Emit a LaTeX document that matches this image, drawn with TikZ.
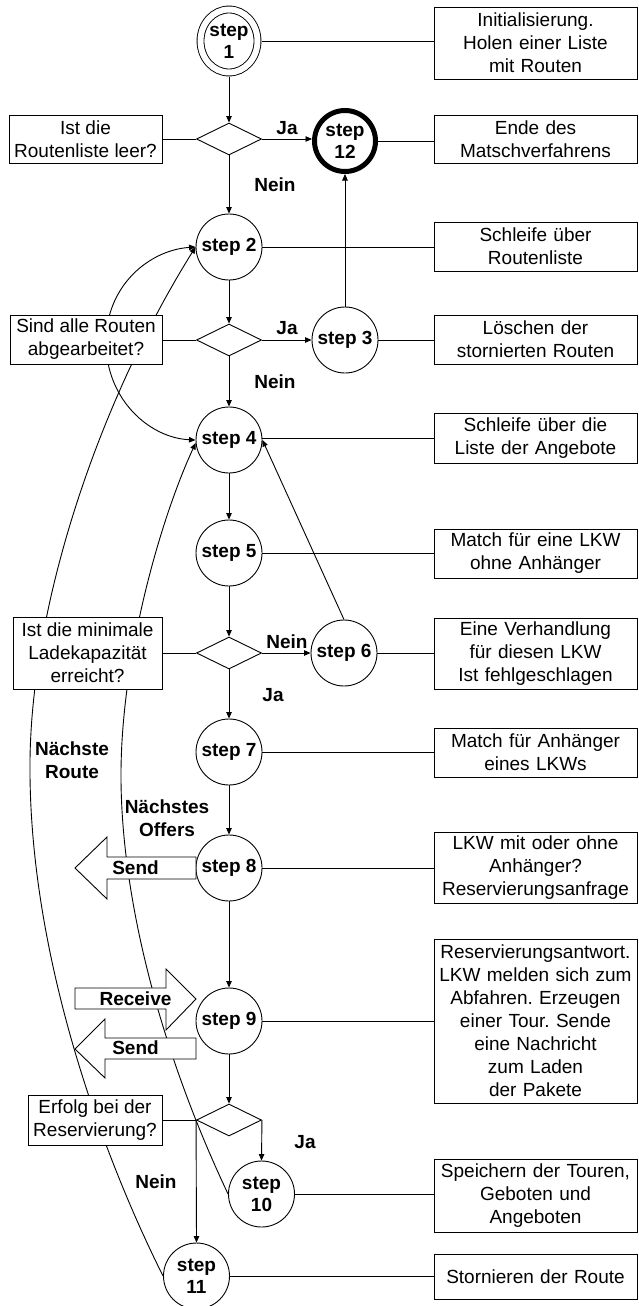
\documentclass[tikz,border=0pt]{standalone}
\usepackage{fontspec}
\setmainfont{Liberation Sans}
\usetikzlibrary{shapes.geometric,arrows.meta,backgrounds}
\frenchspacing

\begin{document}
\begin{tikzpicture}[x=1pt,y=-1pt,
  lbl/.style={font=\fontsize{19}{23}\selectfont\bfseries, align=center, inner sep=0pt},
  conn/.style={line width=0.9pt},
  flow/.style={conn, -{Triangle[length=6.5pt,width=5.5pt]}},
  bothflow/.style={conn, {Triangle[length=6.5pt,width=5.5pt]}-{Triangle[length=6.5pt,width=5.5pt]}},
  stepnode/.style={circle, draw, line width=0.9pt, fill=white, minimum size=66pt, inner sep=0pt, align=center, font=\fontsize{19}{22}\selectfont\bfseries},
  decision/.style={diamond, draw, line width=0.9pt, fill=white, minimum width=65pt, minimum height=32pt, inner sep=0pt},
  infobox/.style={rectangle, draw, line width=0.9pt, fill=white, align=center, inner sep=0pt, font=\fontsize{19}{23}\selectfont},
  rightbox/.style={infobox, text width=200pt, minimum width=203pt},
  blockarrow/.style={draw, line width=0.9pt, fill=white, line join=miter},
]
\useasboundingbox (0,0) rectangle (638,1306);

% ---------- main column ----------
\node[stepnode, ellipse, double, double distance=6pt, minimum width=57pt, minimum height=63pt, outer sep=4pt] (s1) at (229,41) {step\\1};
\node[decision] (d1) at (229,139) {};
\node[stepnode, line width=5pt, minimum size=61pt] (s12) at (345,141) {step\\12};
\node[stepnode] (s2) at (229,247) {step 2};
\node[decision] (d2) at (229,340) {};
\node[stepnode] (s3) at (345,340) {step 3};
\node[stepnode] (s4) at (229,440) {step 4};
\node[stepnode] (s5) at (229,553) {step 5};
\node[decision] (d3) at (229,653) {};
\node[stepnode] (s6) at (344,653) {step 6};
\node[stepnode] (s7) at (229,752) {step 7};
\node[stepnode] (s8) at (229,868) {step 8};
\node[stepnode] (s9) at (229,1021) {step 9};
\node[decision] (d4) at (229,1120) {};
\node[stepnode] (s10) at (261.5,1194) {step\\10};
\node[stepnode] (s11) at (196.5,1276) {step\\11};

% ---------- descriptions on the right ----------
\node[rightbox, minimum height=72pt] (b1) at (535.5,43) {Initialisierung.\\Holen einer Liste\\mit Routen};
\node[rightbox, minimum height=48pt] (b12) at (535.5,139) {Ende des\\Matschverfahrens};
\node[rightbox, minimum height=49pt] (b2) at (535.5,246.5) {Schleife über\\Routenliste};
\node[rightbox, minimum height=49pt] (b3) at (535.5,339.5) {Löschen der\\stornierten Routen};
\node[rightbox, minimum height=50pt] (b4) at (535.5,438) {Schleife über die\\Liste der Angebote};
\node[rightbox, minimum height=49pt] (b5) at (535.5,553.5) {Match für eine LKW\\ohne Anhänger};
\node[rightbox, minimum height=71pt] (b6) at (535.5,653.5) {Eine Verhandlung\\für diesen LKW\\Ist fehlgeschlagen};
\node[rightbox, minimum height=49pt] (b7) at (535.5,752.5) {Match für Anhänger\\eines LKWs};
\node[rightbox, minimum height=71pt] (b8) at (535.5,867.5) {LKW mit oder ohne\\Anhänger?\\Reservierungsanfrage};
\node[rightbox, minimum height=164pt] (b9) at (535.5,1021) {Reservierungsantwort.\\LKW melden sich zum\\Abfahren. Erzeugen\\einer Tour. Sende\\eine Nachricht\\zum Laden\\der Pakete};
\node[rightbox, minimum height=73pt] (b10) at (535.5,1195.5) {Speichern der Touren,\\Geboten und\\Angeboten};
\node[rightbox, minimum height=45pt] (b11) at (535.5,1276.5) {Stornieren der Route};

% ---------- questions on the left ----------
\node[infobox, minimum width=153pt, minimum height=48pt] (q1) at (85.5,139) {Ist die\\Routenliste leer?};
\node[infobox, minimum width=152pt, minimum height=49pt] (q2) at (86,339.5) {Sind alle Routen\\abgearbeitet?};
\node[infobox, minimum width=149pt, minimum height=72pt] (q3) at (87.5,653) {Ist die minimale\\Ladekapazität\\erreicht?};
\node[infobox, minimum width=134pt, minimum height=50pt] (q4) at (95,1120) {Erfolg bei der\\Reservierung?};

% ---------- loop-back curves, kept behind the boxes ----------
\begin{scope}[on background layer]
  \fill[white] (0,0) rectangle (638,1306);
  \draw[bothflow] (s2.west) .. controls (150,250) and (106,285) .. (106,342)
                  .. controls (106,400) and (150,438) .. (s4.west);
  \draw[flow] (s11.west) .. controls (100,1150) and (28,950) .. (30,760)
              .. controls (32,600) and (100,400) .. (s2.west);
  \draw[flow] (s10.west) .. controls (160,1050) and (122,900) .. (121,780)
              .. controls (120,660) and (160,520) .. (s4.185);
\end{scope}

% ---------- flow arrows ----------
\draw[flow] (s1.south) -- (d1.north);
\draw[flow] (d1.south) -- (s2.north);
\draw[flow] (s2.south) -- (d2.north);
\draw[flow] (d2.south) -- (s4.north);
\draw[flow] (s4.south) -- (s5.north);
\draw[flow] (s5.south) -- (d3.north);
\draw[flow] (d3.south) -- (s7.north);
\draw[flow] (s7.south) -- (s8.north);
\draw[flow] (s8.south) -- (s9.north);
\draw[flow] (s9.south) -- (d4.north);
\draw[flow] (d4.east) -- (s10.north);
\draw[flow] (d4.west) -- (s11.north);
\draw[flow] (d1.east) -- (d1.east -| s12.west);
\draw[flow] (d2.east) -- (s3.west);
\draw[flow] (d3.east) -- (s6.west);
\draw[flow] (s3.north) -- (s12.south);
\draw[flow] (s6.north) -- (s4.east);

% ---------- plain links to the descriptions ----------
\draw[conn] (s1.east) -- (s1.east -| b1.west);
\draw[conn] (s12.east) -- (s12.east -| b12.west);
\draw[conn] (s2.east) -- (s2.east -| b2.west);
\draw[conn] (s3.east) -- (s3.east -| b3.west);
\draw[conn] (b4.west) -- (b4.west -| s4.east);
\draw[conn] (s5.east) -- (s5.east -| b5.west);
\draw[conn] (s6.east) -- (s6.east -| b6.west);
\draw[conn] (s7.east) -- (s7.east -| b7.west);
\draw[conn] (s8.east) -- (s8.east -| b8.west);
\draw[conn] (s9.east) -- (s9.east -| b9.west);
\draw[conn] (s10.east) -- (s10.east -| b10.west);
\draw[conn] (s11.east) -- (s11.east -| b11.west);
\draw[conn] (d1.west) -- (d1.west -| q1.east);
\draw[conn] (d2.west) -- (d2.west -| q2.east);
\draw[conn] (d3.west) -- (d3.west -| q3.east);
\draw[conn] (d4.west) -- (d4.west -| q4.east);

% ---------- message arrows ----------
\draw[blockarrow] (196,857) -- (107,857) -- (107,837) -- (75,868) -- (107,899) -- (107,879) -- (196,879) -- cycle;
\draw[blockarrow] (75,988) -- (166,988) -- (166,969) -- (196,999) -- (166,1030) -- (166,1009) -- (75,1009) -- cycle;
\draw[blockarrow] (196,1038) -- (105,1038) -- (105,1019) -- (75,1049) -- (105,1078) -- (105,1059) -- (196,1059) -- cycle;
\node[lbl] (send1) at (135.5,868) {Send};
\node[lbl] (recv) at (135.5,999) {Receive};
\node[lbl] (send2) at (135.5,1048) {Send};

% ---------- branch labels ----------
\node[lbl] (ja1) at (287,128) {Ja};
\node[lbl] (nein1) at (275,185) {Nein};
\node[lbl] (ja2) at (287,328) {Ja};
\node[lbl] (nein2) at (275,382) {Nein};
\node[lbl] (nein3) at (287,642) {Nein};
\node[lbl] (ja3) at (273,695) {Ja};
\node[lbl] (ja4) at (305,1142) {Ja};
\node[lbl] (nein4) at (156,1182) {Nein};
\node[lbl] (nextroute) at (72,760) {Nächste\\Route};
\node[lbl] (nextoffer) at (167,818) {Nächstes\\Offers};
\end{tikzpicture}
\end{document}
